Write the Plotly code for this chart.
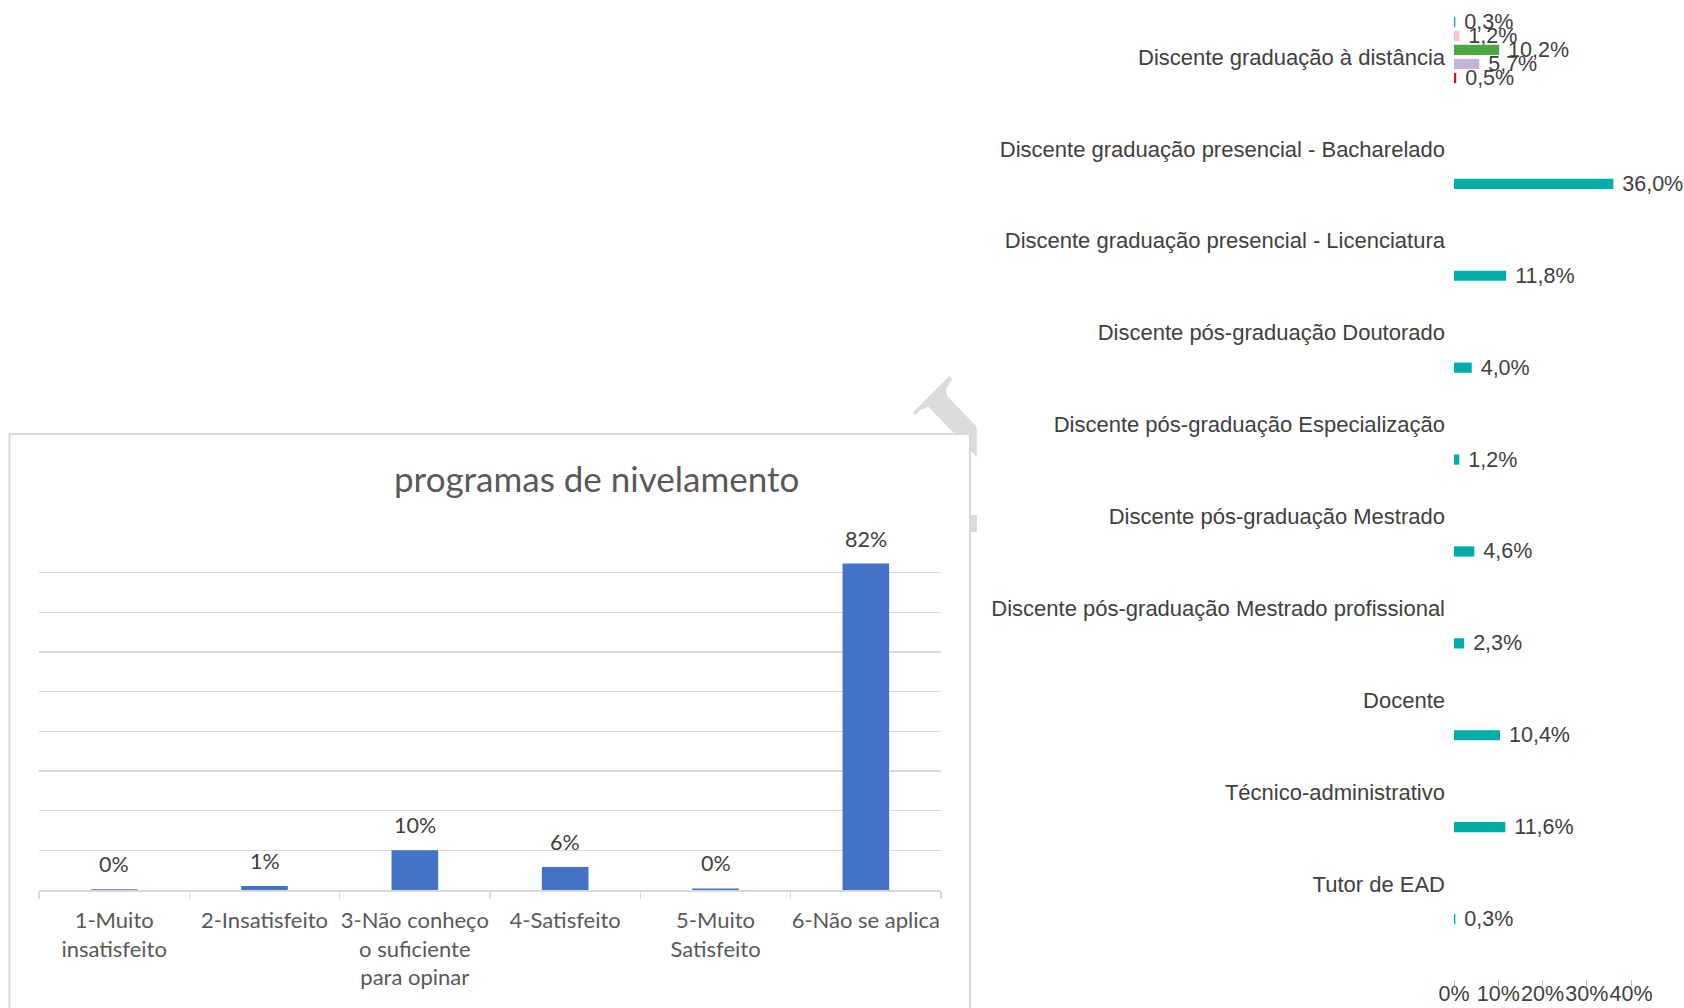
import numpy as np
import plotly.graph_objects as go

# ---------------- Left chart data ----------------
left_title = "programas de nivelamento"
left_categories = [
    "1-Muito<br>insatisfeito",
    "2-Insatisfeito",
    "3-Não conheço<br>o suficiente<br>para opinar",
    "4-Satisfeito",
    "5-Muito<br>Satisfeito",
    "6-Não se aplica",
]
left_values = [0.2, 1.0, 10.0, 5.8, 0.4, 82.3]  # percent

# ---------------- Right chart data ----------------
right_categories = [
    "Discente graduação à distância",
    "Discente graduação presencial - Bacharelado",
    "Discente graduação presencial - Licenciatura",
    "Discente pós-graduação Doutorado",
    "Discente pós-graduação Especialização",
    "Discente pós-graduação Mestrado",
    "Discente pós-graduação Mestrado profissional",
    "Docente",
    "Técnico-administrativo",
    "Tutor de EAD",
]
right_s1 = [0.3, None, None, None, None, None, None, None, None, None]
right_s2 = [1.2, None, None, None, None, None, None, None, None, None]
right_s3 = [10.2, None, None, None, None, None, None, None, None, None]
right_s4 = [5.7, None, None, None, None, None, None, None, None, None]
right_s5 = [0.5, None, None, None, None, None, None, None, None, None]
right_s6 = [None, 36.0, 11.8, 4.0, 1.2, 4.6, 2.3, 10.4, 11.6, 0.3]
right_colors = ["#1F9AC4", "#FFC4CE", "#4EA842", "#C6B3DA", "#C8161D", "#00ADA8"]
right_ticks = [0, 0.1, 0.2, 0.3, 0.4]
right_ticktext = ["0%", "10%", "20%", "30%", "40%"]

# the page's body margin is removed (post_script), so the figure fills the window
OFF = 0
W, H = 1684, 1008


def px_x(v):
    return (v - OFF) / W


def px_y(v):
    return 1 - (v - OFF) / H


def frac(arr):
    return [None if a is None else a / 100.0 for a in arr]


RFONT = "Liberation Sans, Arial"
LFONT = "Lato"

fig = go.Figure()

# Left bar chart
fig.add_trace(go.Bar(
    x=left_categories, y=frac(left_values),
    marker=dict(color="#4472C4", line=dict(width=0)),
    width=0.31, xaxis="x", yaxis="y", showlegend=False,
    hoverinfo="skip",
))

# Right grouped horizontal bars
for s, c in zip([right_s1, right_s2, right_s3, right_s4, right_s5, right_s6], right_colors):
    fig.add_trace(go.Bar(
        y=right_categories, x=frac(s), orientation="h",
        marker=dict(color=c, line=dict(width=0)),
        texttemplate="\u00a0%{x:.1%}", textposition="outside",
        constraintext="none", cliponaxis=False,
        textfont=dict(family=RFONT, size=21.5, color="#404040"),
        xaxis="x2", yaxis="y2", showlegend=False, hoverinfo="skip",
    ))

annotations = []
for cat, v in zip(left_categories, left_values):
    annotations.append(dict(
        x=cat, y=v / 100.0, xref="x", yref="y",
        text=f"{round(v):.0f}%", showarrow=False,
        yanchor="middle", yshift=25,
        font=dict(family=LFONT, size=21.5, color="#404040"),
    ))
annotations.append(dict(
    x=px_x(596), y=px_y(478), xref="paper", yref="paper",
    text=left_title, showarrow=False, xanchor="center", yanchor="middle",
    font=dict(family=LFONT, size=35, color="#595959"),
))

# watermark fragment (decoration) and the left chart's box
wm_pts = [(912.7, 412.7), (949.3, 376), (952, 379.3), (946, 389.3), (947.3, 396),
          (976.7, 426.7), (976.7, 457), (928.3, 406.7), (920, 410), (916, 415)]
wm_path = "M " + " L ".join(f"{px_x(a):.5f},{px_y(b):.5f}" for a, b in wm_pts) + " Z"
shapes = [
    dict(type="path", path=wm_path, xref="paper", yref="paper",
         fillcolor="#DCDCDC", line=dict(width=0), layer="below"),
    dict(type="rect", xref="paper", yref="paper",
         x0=px_x(970), x1=px_x(977), y0=px_y(532), y1=px_y(515),
         fillcolor="#DCDCDC", line=dict(width=0), layer="below"),
    dict(type="rect", xref="paper", yref="paper",
         x0=px_x(9.5), x1=px_x(970), y0=px_y(1012), y1=px_y(434),
         fillcolor="white", line=dict(color="#D9D9D9", width=2), layer="below"),
]

fig.update_layout(
    width=W, height=H,
    margin=dict(l=0, r=0, t=0, b=0, autoexpand=False),
    paper_bgcolor="white", plot_bgcolor="rgba(0,0,0,0)",
    separators=",.",
    barmode="group", bargap=0.086, bargroupgap=0.27,
    annotations=annotations, shapes=shapes,
    xaxis=dict(
        domain=[px_x(39), px_x(941)], anchor="y", automargin=False,
        type="category", tickson="boundaries", ticks="outside", ticklen=7,
        tickcolor="#D9D9D9", tickwidth=1.5, tickangle=0,
        showline=True, linecolor="#D9D9D9", linewidth=1.5,
        showgrid=False, zeroline=False,
        tickfont=dict(family=LFONT, size=22, color="#595959"),
        ticklabelstandoff=10, fixedrange=True,
    ),
    yaxis=dict(
        domain=[px_y(890), px_y(533)], anchor="x", automargin=False,
        range=[0, 0.9], dtick=0.1, showticklabels=False,
        showgrid=True, gridcolor="#D9D9D9", gridwidth=1.5,
        zeroline=False, showline=False, ticks="",
    ),
    xaxis2=dict(
        domain=[px_x(1454), px_x(1631)], anchor="y2", automargin=False,
        range=[0, 0.4], tickvals=right_ticks, ticktext=right_ticktext,
        ticks="outside", ticklen=6, tickcolor="#BFBFBF", tickwidth=1, tickangle=0,
        showgrid=False, zeroline=False, showline=False,
        tickfont=dict(family=RFONT, size=21.5, color="#404040"),
        ticklabelstandoff=-11,
    ),
    yaxis2=dict(
        domain=[px_y(979), px_y(11)], anchor="x2", automargin=False,
        type="category", categoryorder="array", categoryarray=right_categories,
        range=[10.033, -0.5], showgrid=False, zeroline=False, showline=False,
        ticks="", ticklabelstandoff=8,
        tickfont=dict(family=RFONT, size=22, color="#404040"),
    ),
)

fig.write_html(
    "out.html",
    config={"displayModeBar": False, "staticPlot": True},
    post_script="document.body.style.margin='0';document.body.style.overflow='hidden';",
)
